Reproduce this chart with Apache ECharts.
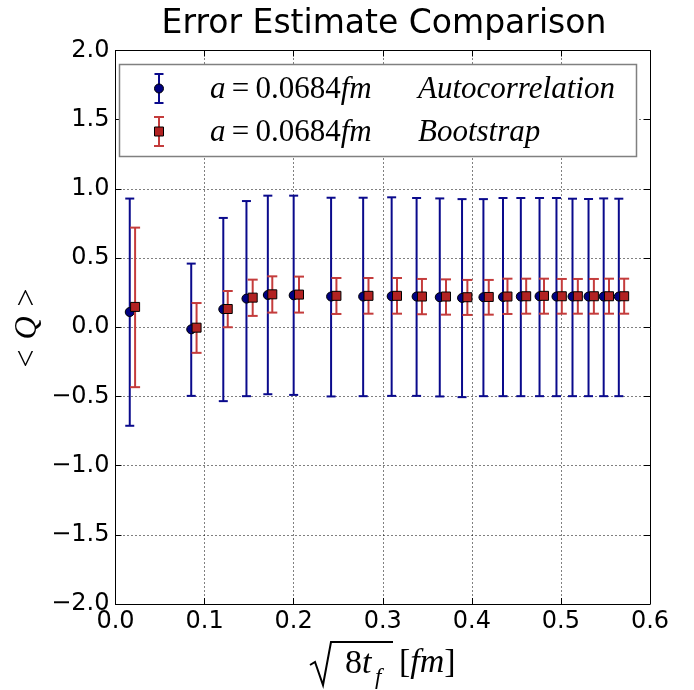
<!DOCTYPE html>
<html><head><meta charset="utf-8">
<script src="https://cdn.jsdelivr.net/npm/echarts@6/dist/echarts.min.js"></script>
<style>html,body{margin:0;padding:0;background:#fff}#c{width:694px;height:690px}</style>
</head><body><div id="c"></div><script>
// ---- data ----
const autoX    = [0.016, 0.085, 0.121, 0.147, 0.171, 0.200, 0.242, 0.278, 0.310, 0.338, 0.364, 0.389, 0.413, 0.435, 0.455, 0.476, 0.495, 0.513, 0.531, 0.548, 0.565];
const autoY    = [0.110, -0.015, 0.130, 0.207, 0.233, 0.231, 0.222, 0.222, 0.224, 0.222, 0.217, 0.212, 0.217, 0.219, 0.222, 0.224, 0.222, 0.222, 0.222, 0.222, 0.222];
const autoLow  = [-0.712, -0.496, -0.534, -0.498, -0.484, -0.489, -0.500, -0.498, -0.496, -0.496, -0.500, -0.505, -0.498, -0.498, -0.498, -0.498, -0.498, -0.498, -0.498, -0.498, -0.498];
const autoHigh = [0.930, 0.460, 0.790, 0.912, 0.951, 0.951, 0.936, 0.936, 0.939, 0.934, 0.931, 0.926, 0.926, 0.934, 0.934, 0.934, 0.934, 0.929, 0.927, 0.931, 0.929];

const bootX    = [0.022, 0.091, 0.126, 0.154, 0.176, 0.206, 0.248, 0.284, 0.316, 0.344, 0.371, 0.395, 0.419, 0.440, 0.461, 0.481, 0.501, 0.519, 0.537, 0.554, 0.571];
const bootY    = [0.147, -0.003, 0.132, 0.214, 0.238, 0.236, 0.227, 0.227, 0.227, 0.222, 0.222, 0.217, 0.219, 0.222, 0.224, 0.227, 0.224, 0.224, 0.224, 0.224, 0.224];
const bootLow  = [-0.433, -0.185, 0.000, 0.082, 0.106, 0.106, 0.096, 0.098, 0.098, 0.094, 0.091, 0.089, 0.091, 0.096, 0.098, 0.098, 0.098, 0.098, 0.098, 0.098, 0.098];
const bootHigh = [0.720, 0.175, 0.262, 0.344, 0.368, 0.366, 0.356, 0.356, 0.356, 0.349, 0.346, 0.342, 0.342, 0.351, 0.351, 0.351, 0.349, 0.349, 0.349, 0.351, 0.351];

const xTickLabels = ['0.0', '0.1', '0.2', '0.3', '0.4', '0.5', '0.6'];
const yTickLabels = ['\u22122.0', '\u22121.5', '\u22121.0', '\u22120.5', '0.0', '0.5', '1.0', '1.5', '2.0'];

const seriesNames = ['Autocorrelation', 'Bootstrap'];
const titleText = 'Error Estimate Comparison';

// ---- styling ----
const BLUE = '#000080', BLUE_BAR = '#0a0a8c';
const RED = '#b22222', RED_BAR = '#c43c3c';
const TICKF = 'DejaVu Sans';
const MATHF = 'Liberation Serif';
const LF = 31;
const XF = 34;

const chart = echarts.init(document.getElementById('c'), null, {renderer: 'canvas'});

function errRender(color, cap) {
  return function (params, api) {
    const x = api.value(0), lo = api.value(1), hi = api.value(2);
    const a = api.coord([x, lo]), b = api.coord([x, hi]);
    const st = {stroke: color, lineWidth: 2};
    return {type: 'group', children: [
      {type: 'line', shape: {x1: a[0], y1: a[1], x2: b[0], y2: b[1]}, style: st},
      {type: 'line', shape: {x1: b[0] - cap, y1: b[1], x2: b[0] + cap, y2: b[1]}, style: st},
      {type: 'line', shape: {x1: a[0] - cap, y1: a[1], x2: a[0] + cap, y2: a[1]}, style: st}
    ]};
  };
}

const autoErr = autoX.map((x, i) => [x, autoLow[i], autoHigh[i]]);
const bootErr = bootX.map((x, i) => [x, bootLow[i], bootHigh[i]]);
const autoPts = autoX.map((x, i) => [x, autoY[i]]);
const bootPts = bootX.map((x, i) => [x, bootY[i]]);

const gridLine = {show: true, lineStyle: {color: '#000', type: [1, 3], width: 1}};
const tickIn = {show: true, inside: true, length: 6, lineStyle: {color: '#000', width: 1}};
const axLine = {show: true, onZero: false, lineStyle: {color: '#000', width: 1}};

const mathRich = {
  i: {font: 'italic ' + LF + 'px "' + MATHF + '"', fill: '#000'},
  u: {font: LF + 'px "' + MATHF + '"', fill: '#000'}
};

function legendGlyph(cy, color, barColor, isSquare, half, cap) {
  const els = [
    {type: 'line', z: 20, shape: {x1: 159, y1: cy - half, x2: 159, y2: cy + half}, style: {stroke: barColor, lineWidth: 2}},
    {type: 'line', z: 20, shape: {x1: 159 - cap, y1: cy - half, x2: 159 + cap, y2: cy - half}, style: {stroke: barColor, lineWidth: 2}},
    {type: 'line', z: 20, shape: {x1: 159 - cap, y1: cy + half, x2: 159 + cap, y2: cy + half}, style: {stroke: barColor, lineWidth: 2}}
  ];
  if (isSquare) {
    els.push({type: 'rect', z: 21, shape: {x: 154.5, y: cy - 4.5, width: 9, height: 9}, style: {fill: color, stroke: '#000', lineWidth: 1}});
  } else {
    els.push({type: 'circle', z: 21, shape: {cx: 159, cy: cy, r: 4.5}, style: {fill: color, stroke: '#000', lineWidth: 1}});
  }
  return els;
}

const option = {
  animation: false,
  backgroundColor: '#fff',
  grid: {left: 115.5, top: 50.5, right: 44, bottom: 86, containLabel: false},
  xAxis: [
    {type: 'value', min: 0, max: 0.6, interval: 0.1, axisLine: axLine, axisTick: tickIn,
     splitLine: gridLine,
     axisLabel: {color: '#000', fontFamily: TICKF, fontSize: 24, margin: 6,
                 formatter: (v) => xTickLabels[Math.round(v * 10)]}},
    {type: 'value', position: 'top', min: 0, max: 0.6, interval: 0.1, axisLine: axLine,
     axisTick: tickIn, splitLine: {show: false}, axisLabel: {show: false}}
  ],
  yAxis: [
    {type: 'value', min: -2, max: 2, interval: 0.5, axisLine: axLine, axisTick: tickIn,
     splitLine: gridLine,
     axisLabel: {color: '#000', fontFamily: TICKF, fontSize: 24, margin: 6,
                 formatter: (v) => yTickLabels[Math.round((v + 2) * 2)]}},
    {type: 'value', position: 'right', min: -2, max: 2, interval: 0.5, axisLine: axLine,
     axisTick: tickIn, splitLine: {show: false}, axisLabel: {show: false}}
  ],
  series: [
    {name: seriesNames[0] + ' err', type: 'custom', renderItem: errRender(BLUE_BAR, 4.5),
     encode: {x: 0, y: [1, 2]}, data: autoErr, z: 2, clip: false},
    {name: seriesNames[0], type: 'scatter', data: autoPts, symbol: 'circle', symbolSize: 9,
     itemStyle: {color: BLUE, borderColor: '#000', borderWidth: 1, opacity: 1}, z: 3},
    {name: seriesNames[1] + ' err', type: 'custom', renderItem: errRender(RED_BAR, 5),
     encode: {x: 0, y: [1, 2]}, data: bootErr, z: 4, clip: false},
    {name: seriesNames[1], type: 'scatter', data: bootPts, symbol: 'rect', symbolSize: 9,
     itemStyle: {color: RED, borderColor: '#000', borderWidth: 1, opacity: 1}, z: 5}
  ],
  graphic: [
    // title
    {type: 'text', x: 384, y: 24, z: 10,
     style: {text: titleText, font: '33px "DejaVu Sans"', fill: '#000', align: 'center', verticalAlign: 'middle'}},
    // legend frame
    {type: 'rect', z: 10, shape: {x: 119.5, y: 64.5, width: 517, height: 92},
     style: {fill: '#fff', stroke: '#808080', lineWidth: 1.5}},
    ...legendGlyph(88.5, BLUE, BLUE_BAR, false, 14.5, 4.5),
    ...legendGlyph(131.5, RED, RED_BAR, true, 14.5, 5),
    // legend texts
    {type: 'text', z: 21, x: 210, y: 90,
     style: {text: '{i|a}{u|\u2009=\u20090.0684}{i|fm}', verticalAlign: 'middle', align: 'left', rich: mathRich}},
    {type: 'text', z: 21, x: 418, y: 90,
     style: {text: seriesNames[0], font: 'italic ' + LF + 'px "' + MATHF + '"', fill: '#000', verticalAlign: 'middle', align: 'left'}},
    {type: 'text', z: 21, x: 210, y: 133,
     style: {text: '{i|a}{u|\u2009=\u20090.0684}{i|fm}', verticalAlign: 'middle', align: 'left', rich: mathRich}},
    {type: 'text', z: 21, x: 418, y: 133,
     style: {text: seriesNames[1], font: 'italic ' + LF + 'px "' + MATHF + '"', fill: '#000', verticalAlign: 'middle', align: 'left'}},
    // y axis label  < Q >
    {type: 'text', z: 11, x: 28, y: 328, rotation: Math.PI / 2,
     style: {text: '{r|<}{q|Q}{r|>}', align: 'center', verticalAlign: 'middle',
             rich: {r: {font: '32px "' + MATHF + '"', fill: '#000'},
                    q: {font: 'italic 32px "' + MATHF + '"', fill: '#000', padding: [0, 10, 0, 10]}}}},
    // x axis label  sqrt(8 t_f) [fm]
    {type: 'polyline', z: 11, shape: {points: [[310, 665], [315, 662], [323, 685], [331, 642], [393, 642]]},
     style: {stroke: '#000', lineWidth: 2, fill: null}},
    {type: 'text', z: 11, x: 345, y: 681,
     style: {text: '{u|8}{i|t}', align: 'left', verticalAlign: 'bottom',
             rich: {u: {font: XF + 'px "' + MATHF + '"', fill: '#000'},
                    i: {font: 'italic ' + XF + 'px "' + MATHF + '"', fill: '#000'}}}},
    {type: 'text', z: 11, x: 375, y: 689,
     style: {text: 'f', font: 'italic 23px "' + MATHF + '"', fill: '#000', align: 'left', verticalAlign: 'bottom'}},
    {type: 'text', z: 11, x: 399, y: 663,
     style: {text: '{u|[}{i|fm}{u|]}', align: 'left', verticalAlign: 'middle',
             rich: {u: {font: XF + 'px "' + MATHF + '"', fill: '#000'},
                    i: {font: 'italic ' + XF + 'px "' + MATHF + '"', fill: '#000'}}}}
  ]
};
chart.setOption(option);
</script></body></html>
